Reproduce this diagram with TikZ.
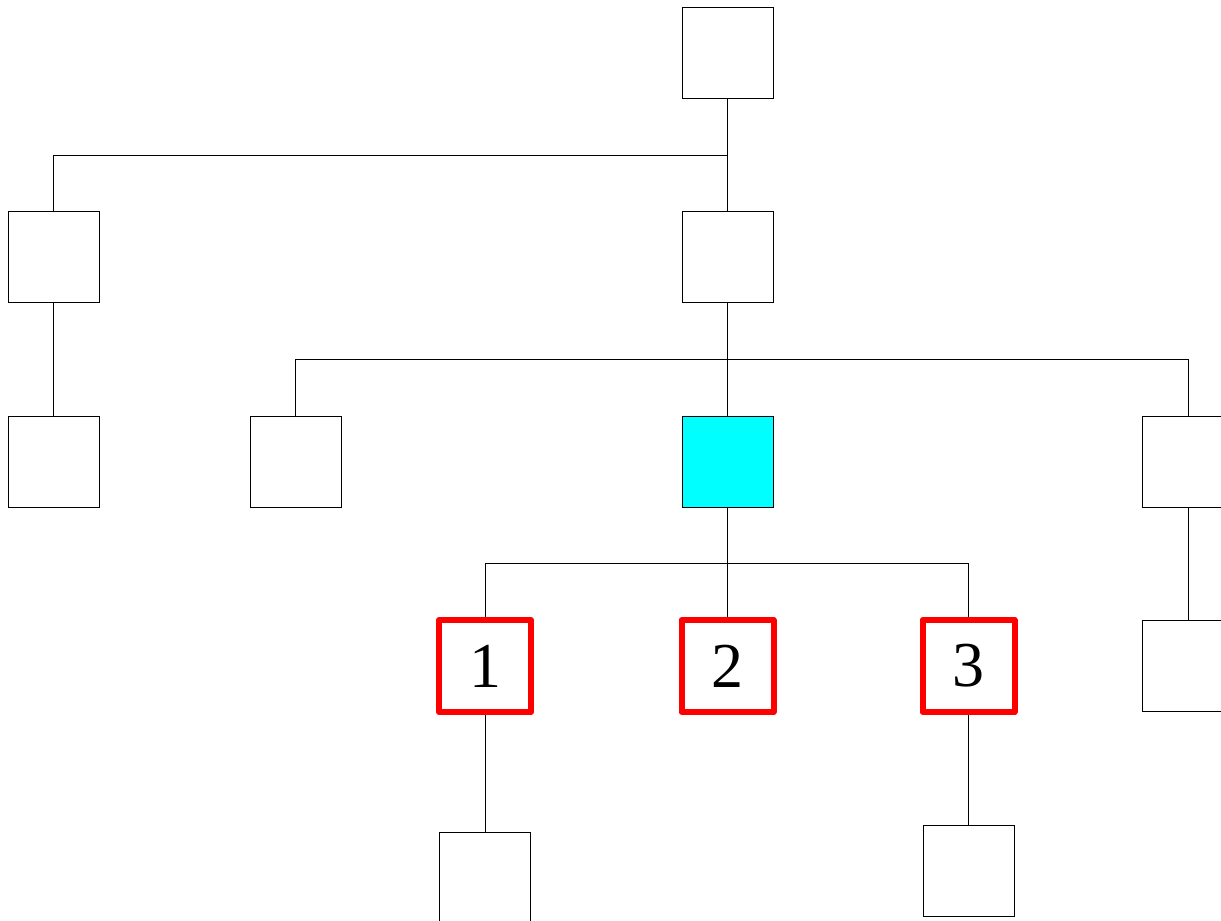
\documentclass[tikz,border=0pt]{standalone}
\usepackage{fontspec}
\setmainfont{Liberation Serif}
\definecolor{aqua}{RGB}{0,255,255}
\begin{document}
\begin{tikzpicture}[x=1pt,y=-1pt,
  box/.style={draw=black,line width=0.9pt,rectangle,minimum size=91pt,inner sep=0pt,fill=white},
  hot/.style={box,draw=red,line width=6pt,line join=round,minimum size=92pt,font=\fontsize{64}{64}\selectfont},
  link/.style={draw=black,line width=0.9pt}]
\clip (0,0) rectangle (1221,921);
\fill[white] (0,0) rectangle (1221,921);

% tree nodes
\node[box] (root) at (727.5,53) {};
\node[box] (a) at (53.5,257) {};
\node[box] (b) at (727.5,257) {};
\node[box] (a1) at (53.5,461.5) {};
\node[box] (c) at (295.5,461.5) {};
\node[box,fill=aqua] (d) at (727.5,461.5) {};
\node[box] (e) at (1188,461.5) {};
\node[hot] (r1) at (485,666) {1};
\node[hot] (r2) at (727.5,666) {2};
\node[hot] (r3) at (968.5,666) {3};
\node[box] (e1) at (1188,666) {};
\node[box] (r1c) at (485,877.5) {};
\node[box] (r3c) at (968.5,870.5) {};

% bus junctions
\coordinate (j0) at (727.5,155);
\coordinate (j1) at (727.5,359);
\coordinate (j2) at (727.5,563);

% connectors
\draw[link] (root.south) -- (j0) -| (a.north);
\draw[link] (j0) -- (b.north);
\draw[link] (a.south) -- (a1.north);
\draw[link] (b.south) -- (j1) -| (c.north);
\draw[link] (j1) -- (d.north);
\draw[link] (j1) -| (e.north);
\draw[link] (d.south) -- (j2) -| (r1.north);
\draw[link] (j2) -- (r2.north);
\draw[link] (j2) -| (r3.north);
\draw[link] (e.south) -- (e1.north);
\draw[link] (r1.south) -- (r1c.north);
\draw[link] (r3.south) -- (r3c.north);
\end{tikzpicture}
\end{document}
